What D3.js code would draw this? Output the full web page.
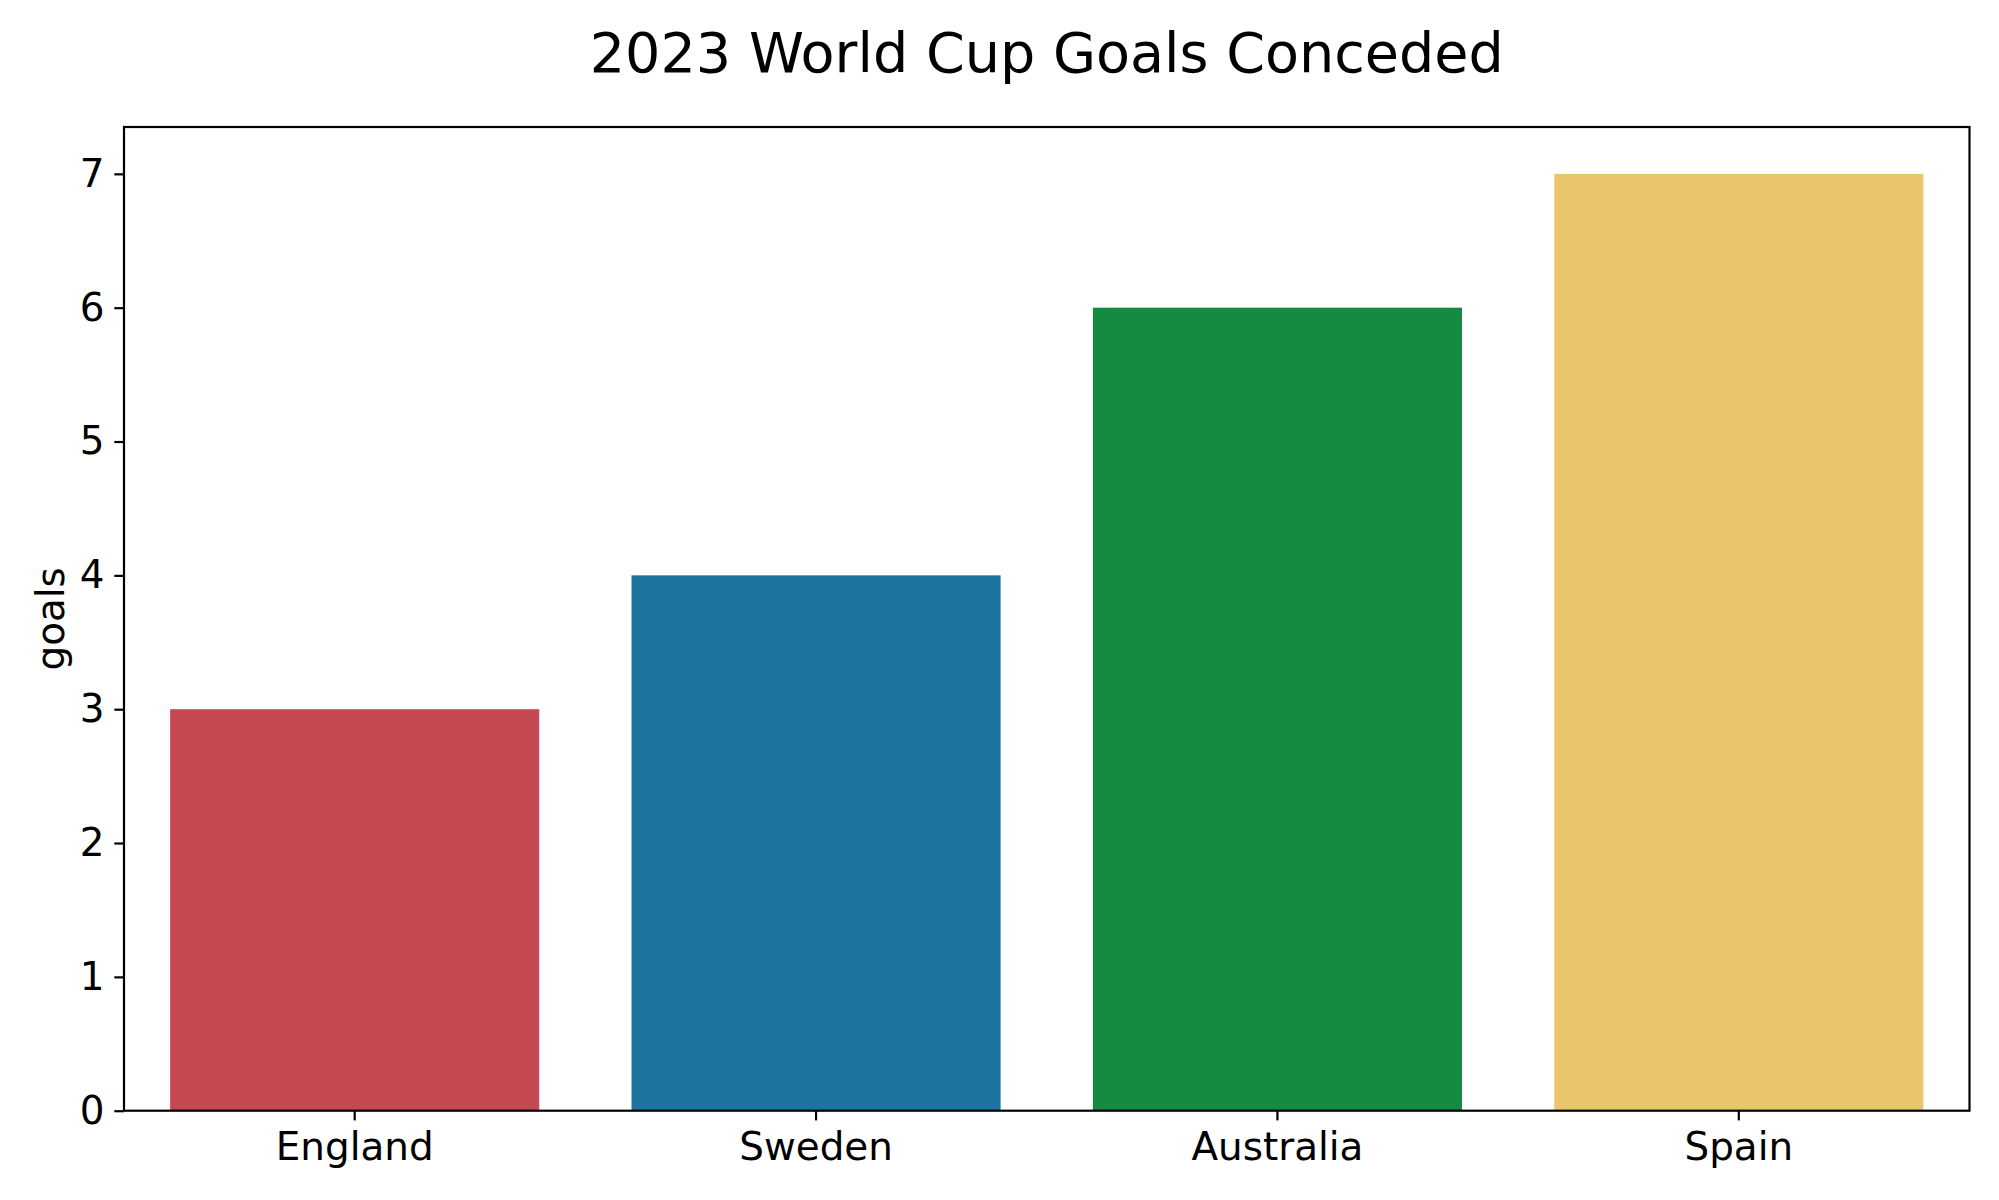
<!DOCTYPE html>
<html>
<head>
<meta charset="utf-8">
<script src="https://cdn.jsdelivr.net/npm/d3@7"></script>
<style>
  html, body { margin: 0; padding: 0; background: #ffffff; }
  svg { display: block; }
  text { font-family: "DejaVu Sans", sans-serif; fill: #000; }
</style>
</head>
<body>
<script>
const categories = ["England", "Sweden", "Australia", "Spain"];
const goals = [3, 4, 6, 7];
const barColors = ["#C44953", "#1D74A0", "#148A43", "#E9C66C"];
const yTicks = [0, 1, 2, 3, 4, 5, 6, 7];
const titleText = "2023 World Cup Goals Conceded";
const yLabelText = "goals";

const W = 1999, H = 1200;
const m = { left: 124, right: 1969.5, top: 127, bottom: 1110.7 };
const tickLen = 9.7, tickPad = 9.7, lw = 2.2;

const svg = d3.select("body").append("svg").attr("width", W).attr("height", H);

const x = d3.scaleBand().domain(categories).range([m.left, m.right])
  .paddingInner(0.2).paddingOuter(0.1);
const y = d3.scaleLinear().domain([0, 7.35]).range([m.bottom, m.top]);

// bars
svg.append("g").selectAll("rect").data(categories).join("rect")
  .attr("x", d => x(d))
  .attr("width", x.bandwidth())
  .attr("y", (d, i) => y(goals[i]))
  .attr("height", (d, i) => y(0) - y(goals[i]))
  .attr("fill", (d, i) => barColors[i]);

// axes
const xAxis = svg.append("g").attr("transform", `translate(0,${m.bottom})`)
  .call(d3.axisBottom(x).tickSize(tickLen).tickPadding(tickPad + 2.5).tickSizeOuter(0));
const yAxis = svg.append("g").attr("transform", `translate(${m.left},0)`)
  .call(d3.axisLeft(y).tickValues(yTicks).tickFormat(d3.format("d"))
    .tickSize(tickLen).tickPadding(tickPad).tickSizeOuter(0));
[xAxis, yAxis].forEach(g => {
  g.select(".domain").remove();
  g.selectAll(".tick line").attr("stroke", "#000").attr("stroke-width", lw);
  g.selectAll(".tick text").attr("font-size", 38.9).attr("font-family", "DejaVu Sans").attr("fill", "#000");
});

// frame (spines)
svg.append("rect")
  .attr("x", m.left).attr("y", m.top)
  .attr("width", m.right - m.left).attr("height", m.bottom - m.top)
  .attr("fill", "none").attr("stroke", "#000").attr("stroke-width", lw);

// title
svg.append("text")
  .attr("x", (m.left + m.right) / 2).attr("y", 72)
  .attr("text-anchor", "middle").attr("font-size", 55.6)
  .text(titleText);

// y label
svg.append("text")
  .attr("transform", `translate(64,${(m.top + m.bottom) / 2}) rotate(-90)`)
  .attr("text-anchor", "middle").attr("font-size", 38.9)
  .text(yLabelText);
</script>
</body>
</html>
